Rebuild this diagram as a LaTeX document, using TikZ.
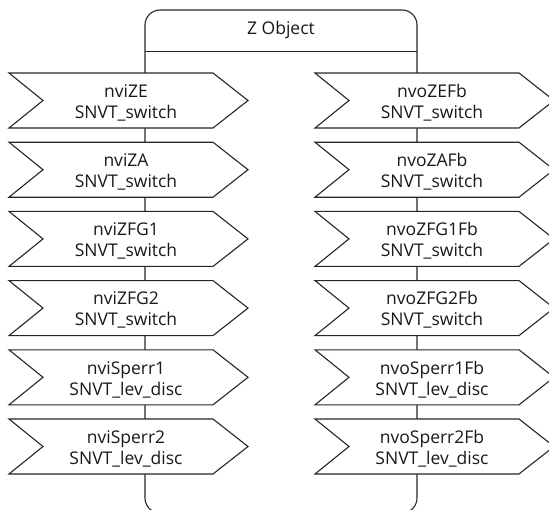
\documentclass[tikz,border=0pt]{standalone}
\usepackage{fontspec}
\setmainfont{Open Sans}
\begin{document}
\begin{tikzpicture}[x=1pt,y=-1pt,line width=1.1pt,
  frame/.style={draw=black!85},
  chev/.style={draw=black!85,fill=white,line join=miter},
  lbl/.style={font=\fontsize{17.5}{21}\selectfont,align=center,inner sep=0pt,text=black!90}]
\useasboundingbox (0,0) rectangle (549,509);
\clip (0,0) rectangle (549,509);
% container
\draw[frame,rounded corners=15pt] (145,10) rectangle (417,513);
\draw[frame] (145,51.5) -- (417,51.5);
\node[lbl,anchor=base] (title) at (281,34) {Z Object};
% left chevrons
\foreach \na/\ty [count=\i from 0] in {nviZE/SNVT\_switch,nviZA/SNVT\_switch,nviZFG1/SNVT\_switch,nviZFG2/SNVT\_switch,nviSperr1/SNVT\_lev\_disc,nviSperr2/SNVT\_lev\_disc}{
  \pgfmathsetmacro\yc{100.5+69.2*\i}
  \def\L{9}
  \draw[chev] (\L,\yc-27.5) -- (\L+34,\yc) -- (\L,\yc+27.5) -- (\L+204,\yc+27.5) -- (\L+239,\yc) -- (\L+204,\yc-27.5) -- cycle;
  \node[lbl] (in\i) at (\L+117,\yc+3.1) {\strut\na\\\strut\ty};
}
% right chevrons
\foreach \na/\ty [count=\i from 0] in {nvoZEFb/SNVT\_switch,nvoZAFb/SNVT\_switch,nvoZFG1Fb/SNVT\_switch,nvoZFG2Fb/SNVT\_switch,nvoSperr1Fb/SNVT\_lev\_disc,nvoSperr2Fb/SNVT\_lev\_disc}{
  \pgfmathsetmacro\yc{100.5+69.2*\i}
  \def\L{315}
  \draw[chev] (\L,\yc-27.5) -- (\L+34,\yc) -- (\L,\yc+27.5) -- (\L+204,\yc+27.5) -- (\L+239,\yc) -- (\L+204,\yc-27.5) -- cycle;
  \node[lbl] (out\i) at (\L+117,\yc+3.1) {\strut\na\\\strut\ty};
}
\end{tikzpicture}
\end{document}
